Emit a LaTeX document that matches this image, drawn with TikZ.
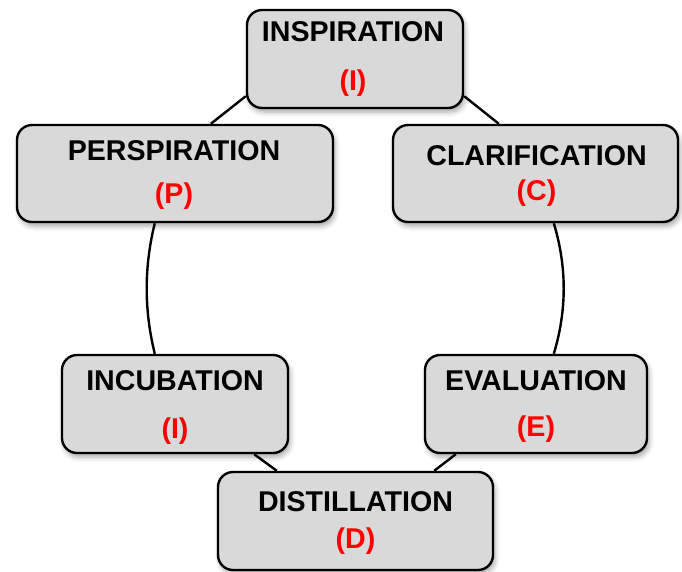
\documentclass[tikz,border=0pt]{standalone}
\usepackage{fontspec}
\setmainfont{Liberation Sans}
\usetikzlibrary{calc,shadows.blur}

\definecolor{boxgray}{HTML}{D9D9D9}
\definecolor{labelred}{HTML}{FF0000}

\tikzset{
  phasebox/.style={
    rectangle, rounded corners=15pt, draw=black, line width=2.4pt,
    fill=boxgray, inner sep=0pt,
    blur shadow={shadow xshift=2pt, shadow yshift=-4pt,
                 shadow blur radius=5pt, shadow opacity=35}
  },
  title/.style={anchor=base, inner sep=0pt,
    font=\fontsize{28.6}{30}\selectfont\bfseries, text=black},
  tag/.style={anchor=base, inner sep=0pt,
    font=\fontsize{28.6}{30}\selectfont\bfseries, text=labelred},
  ring/.style={line width=2.4pt, black}
}

\begin{document}
\begin{tikzpicture}[x=1pt, y=-1pt]
  \useasboundingbox (0,0) rectangle (682,571);

  % the six phase boxes
  \node[phasebox, minimum width=216pt, minimum height=98pt] (insp)  at (355,59)    {};
  \node[phasebox, minimum width=316pt, minimum height=97pt] (persp) at (175,173.5) {};
  \node[phasebox, minimum width=285pt, minimum height=97pt] (clar)  at (535.5,173.5) {};
  \node[phasebox, minimum width=226pt, minimum height=98pt] (incub) at (175,404)   {};
  \node[phasebox, minimum width=222pt, minimum height=98pt] (eval)  at (536,404)   {};
  \node[phasebox, minimum width=275pt, minimum height=98pt] (dist)  at (355.5,521) {};

  % titles and letters
  \node[title] (t1) at ($(insp.north)+(-2,33)$)  {INSPIRATION};
  \node[tag]   (l1) at ($(insp.north)+(-2,82)$)  {(I)};
  \node[title] (t2) at ($(persp.north)+(-1,37)$) {PERSPIRATION};
  \node[tag]   (l2) at ($(persp.north)+(-1,80)$) {(P)};
  \node[title] (t3) at ($(clar.north)+(1,42)$)   {CLARIFICATION};
  \node[tag]   (l3) at ($(clar.north)+(1,77)$)   {(C)};
  \node[title] (t4) at ($(incub.north)+(0,37)$)  {INCUBATION};
  \node[tag]   (l4) at ($(incub.north)+(0,85)$)  {(I)};
  \node[title] (t5) at ($(eval.north)+(0,37)$)   {EVALUATION};
  \node[tag]   (l5) at ($(eval.north)+(0,83)$)   {(E)};
  \node[title] (t6) at ($(dist.north)+(0,41)$)   {DISTILLATION};
  \node[tag]   (l6) at ($(dist.north)+(0,78)$)   {(D)};

  % ring segments joining the boxes
  \draw[ring] ($(insp.south west)+(0,-13)$) -- ($(persp.north west)+(195,0)$);
  \draw[ring] ($(insp.south east)+(0,-13)$) -- ($(clar.north west)+(107,0)$);
  \draw[ring] ($(persp.south west)+(139,0)$)
     .. controls (144,267) and (144,310) .. ($(incub.north west)+(94,0)$);
  \draw[ring] ($(clar.south west)+(162,0)$)
     .. controls (567,267) and (567,310) .. ($(eval.north west)+(130,0)$);
  \draw[ring] ($(incub.south east)+(-35,0)$) -- ($(dist.north west)+(60,0)$);
  \draw[ring] ($(eval.south west)+(32,0)$) -- ($(dist.north east)+(-60,0)$);
\end{tikzpicture}
\end{document}
